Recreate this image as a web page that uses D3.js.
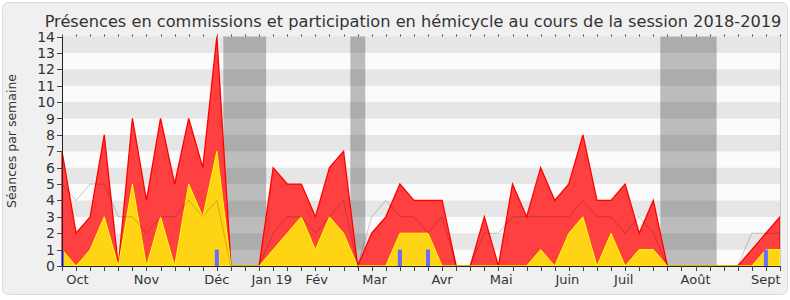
<!DOCTYPE html>
<html>
<head>
<meta charset="utf-8">
<script src="https://cdn.jsdelivr.net/npm/d3@7"></script>
<style>
  body { margin: 0; background: #ffffff; }
  text { font-family: "DejaVu Sans", Verdana, sans-serif; fill: #333; }
</style>
</head>
<body>
<div id="chart"></div>
<script>
// weekly values, session 2018-2019 (week 0 = start of October)
const presenceTotal = [7, 2, 3, 8, 0, 9, 4, 9, 5, 9, 6, 14, 0, 0, 0, 6, 5, 5, 3, 6, 7, 0, 2, 3, 5, 4, 4, 4, 0, 0, 3, 0, 5, 3, 6, 4, 5, 8, 4, 4, 5, 2, 4, 0, 0, 0, 0, 0, 0, 1, 2, 3];
const presenceComm = [1, 0, 1, 3, 0, 5, 0, 3, 0, 5, 3, 7, 0, 0, 0, 1, 2, 3, 1, 3, 2, 0, 0, 0, 2, 2, 2, 0, 0, 0, 0, 0, 0, 0, 1, 0, 2, 3, 0, 2, 0, 1, 1, 0, 0, 0, 0, 0, 0, 0, 1, 1];
const medianLine = [5, 4, 5, 5, 3, 3, 2, 3, 3, 4, 3, 4, 0, 0, 0, 2, 3, 3, 2, 3, 4, 0, 3, 4, 3, 3, 2, 3, 0, 0, 2, 2, 3, 3, 3, 3, 3, 4, 3, 3, 2, 3, 2, 0, 0, 0, 0, 0, 0, 2, 2, 2];
const questionWeeks = [0, 11, 24, 26, 50];
const questionValues = [1, 1, 1, 1, 1];

// holidays (in weeks)
const vacStart = [11.46, 20.48, 42.5];
const vacEnd = [14.5, 21.54, 46.5];

// month labels and their position in weeks
const monthLabels = ["Oct", "Nov", "Déc", "Jan 19", "Fév", "Mar", "Avr", "Mai", "Juin", "Juil", "Août", "Sept"];
const monthPos = [1.1, 6, 11, 14.9, 18.1, 22.2, 27, 31.2, 35.9, 39.9, 45, 50];

const yTicks = d3.range(0, 15);

const width = 790, height = 300;
const mLeft = 62, mRight = 780, mTop = 36.5, mBottom = 266;

const svg = d3.select("#chart").append("svg")
  .attr("width", width)
  .attr("height", height);

// frame
svg.append("rect")
  .attr("x", 2.5).attr("y", 2.5)
  .attr("width", 785).attr("height", 292)
  .attr("rx", 6)
  .attr("fill", "#f0f0f0")
  .attr("stroke", "#dcdcdc");

const weeks = d3.range(presenceTotal.length);
const x = d3.scaleLinear().domain([0, weeks.length - 1]).range([mLeft, mRight]);
const y = d3.scaleLinear().domain([0, 14]).range([mBottom, mTop]);

// striped background
svg.append("g").selectAll("rect")
  .data(d3.range(0, 14))
  .join("rect")
  .attr("x", mLeft)
  .attr("width", mRight - mLeft)
  .attr("y", d => y(d + 1))
  .attr("height", d => y(d) - y(d + 1))
  .attr("fill", d => d % 2 === 1 ? "#e6e6e6" : "#fbfbfb");

// holiday shading
svg.append("g").selectAll("rect")
  .data(vacStart.map((s, i) => [s, vacEnd[i]]))
  .join("rect")
  .attr("x", d => x(d[0]))
  .attr("width", d => x(d[1]) - x(d[0]))
  .attr("y", mTop)
  .attr("height", mBottom - mTop)
  .attr("fill", "rgba(0,0,0,0.25)");

// areas
const area = vals => d3.area()
  .x((d, i) => x(i))
  .y0(y(0))
  .y1(d => y(d))(vals);

svg.append("path")
  .attr("d", area(presenceTotal))
  .attr("fill", "#ff4040")
  .attr("stroke", "#ff0000")
  .attr("stroke-width", 1.3);

svg.append("path")
  .attr("d", area(presenceComm))
  .attr("fill", "#ffd414")
  .attr("stroke", "#ffff00")
  .attr("stroke-width", 1);

// median line
svg.append("path")
  .attr("d", d3.line().x((d, i) => x(i)).y(d => y(d))(medianLine))
  .attr("fill", "none")
  .attr("stroke", "rgba(0,0,0,0.2)")
  .attr("stroke-width", 1);

// question bars
svg.append("g").selectAll("rect")
  .data(questionWeeks.map((w, i) => [w, questionValues[i]]))
  .join("rect")
  .attr("x", d => Math.max(mLeft - 1, x(d[0]) - 2))
  .attr("width", d => d[0] === 0 ? 3 : 4)
  .attr("y", d => y(d[1]))
  .attr("height", d => y(0) - y(d[1]))
  .attr("fill", "#6b6bff");

// right border
svg.append("line")
  .attr("x1", mRight + 0.5).attr("x2", mRight + 0.5)
  .attr("y1", mTop).attr("y2", mBottom)
  .attr("stroke", "#c8c8c8");

// y axis
const yAxis = svg.append("g");
yAxis.append("line")
  .attr("x1", mLeft + 0.5).attr("x2", mLeft + 0.5)
  .attr("y1", mTop).attr("y2", mBottom)
  .attr("stroke", "#222");
yAxis.selectAll("line.tick")
  .data(yTicks)
  .join("line")
  .attr("class", "tick")
  .attr("x1", mLeft - 5).attr("x2", mLeft)
  .attr("y1", d => Math.round(y(d)) + 0.5)
  .attr("y2", d => Math.round(y(d)) + 0.5)
  .attr("stroke", "#444");
yAxis.selectAll("text")
  .data(yTicks)
  .join("text")
  .attr("x", mLeft - 7)
  .attr("y", d => y(d))
  .attr("dy", "0.36em")
  .attr("text-anchor", "end")
  .style("font-size", "14px")
  .text(d => d);

// x axis
const xAxis = svg.append("g");
xAxis.append("line")
  .attr("x1", mLeft).attr("x2", mRight)
  .attr("y1", mBottom + 0.5).attr("y2", mBottom + 0.5)
  .attr("stroke", "#222");
xAxis.selectAll("line.tick")
  .data(weeks)
  .join("line")
  .attr("class", "tick")
  .attr("x1", d => Math.round(x(d)) + 0.5)
  .attr("x2", d => Math.round(x(d)) + 0.5)
  .attr("y1", mBottom).attr("y2", mBottom + 5)
  .attr("stroke", "#444");
xAxis.selectAll("line.top")
  .data(weeks)
  .join("line")
  .attr("class", "top")
  .attr("x1", d => Math.round(x(d)) + 0.5)
  .attr("x2", d => Math.round(x(d)) + 0.5)
  .attr("y1", mTop - 2).attr("y2", mTop)
  .attr("stroke", "#444");
xAxis.selectAll("text")
  .data(monthLabels)
  .join("text")
  .attr("x", (d, i) => x(monthPos[i]))
  .attr("y", 284)
  .attr("text-anchor", "middle")
  .style("font-size", "13px")
  .text(d => d);

// labels
svg.append("text")
  .attr("transform", "translate(16,141) rotate(-90)")
  .attr("text-anchor", "middle")
  .style("font-size", "12.5px")
  .text("Séances par semaine");

svg.append("text")
  .attr("x", 413)
  .attr("y", 27)
  .attr("text-anchor", "middle")
  .style("font-size", "16.2px")
  .text("Présences en commissions et participation en hémicycle au cours de la session 2018-2019");
</script>
</body>
</html>
